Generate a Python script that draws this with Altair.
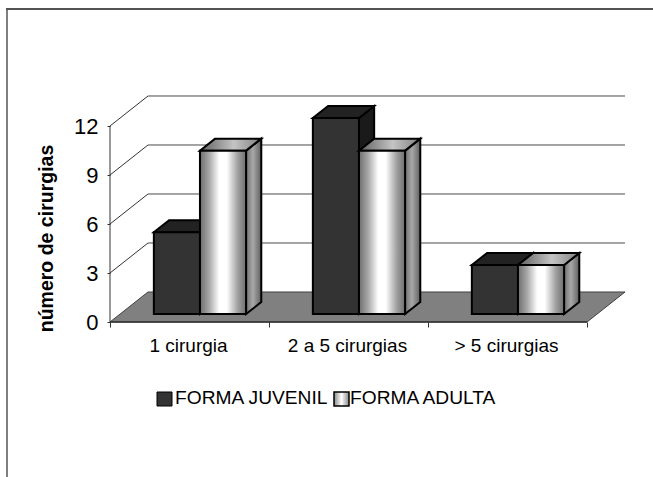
import altair as alt
import pandas as pd

# Survey counts per surgery band
categories = ["1 cirurgia", "2 a 5 cirurgias", "> 5 cirurgias"]
juvenil = [5, 12, 3]
adulta = [10, 10, 3]
value_ticks = [0, 3, 6, 9, 12]
series_names = ["FORMA JUVENIL", "FORMA ADULTA"]

# Oblique projection: one full step of depth shifts a point along both scales
DEPTH_X = 0.239
DEPTH_Y = 1.837
X_MAX = 3 * 515 / 477
Y_MAX = 226 / (196 / 12)
BAR_W = 0.29
BAR_LEFT = 0.212
FRONT = 0.267
BACK = 0.667

X = alt.Scale(domain=[0, X_MAX], nice=False, zero=False)
Y = alt.Scale(domain=[0, Y_MAX], nice=False, zero=False)
FONT = "Liberation Sans"

# Real axes along the front edge of the box; half positions carry the category
# names and the whole positions carry the tick marks
label_expr = (
    "datum.value % 1 == 0 ? '' : ["
    + ",".join(f"'{c}'" for c in categories)
    + "][floor(datum.value)]"
)
AX_X = alt.Axis(
    values=[0, 0.5, 1, 1.5, 2, 2.5, 3], labelExpr=label_expr, title=None, grid=False,
    domain=False, orient="bottom", tickColor="#333333", tickSize=5,
    tickOpacity={"condition": {"test": "datum.value % 1 == 0", "value": 1}, "value": 0},
    labelPadding=9, labelOffset=-1.5, labelFont=FONT, labelFontSize=19, labelColor="#000000",
    labelOverlap=False, labelFlush=False,
)
AX_Y = alt.Axis(
    values=value_ticks, title="número de cirurgias", grid=False, domain=False,
    orient="left", tickColor="#333333", tickSize=3, labelPadding=9, labelFont=FONT,
    labelFontSize=22, labelColor="#000000", titleFont=FONT, titleFontSize=19.5,
    titleFontWeight="bold", titleColor="#000000", titleX=-54, titleY=142,
)
PX = alt.X("x:Q", scale=X, axis=AX_X)
PY = alt.Y("y:Q", scale=Y, axis=AX_Y)


def gradient(stops):
    return alt.Gradient(
        gradient="linear", x1=0, x2=1, y1=0, y2=0,
        stops=[alt.GradientStop(offset=o, color=c) for o, c in stops],
    )


FRONT_FILL = gradient([(0, "#6e6e6e"), (0.2, "#a8a8a8"), (0.42, "#ffffff"),
                       (0.58, "#ffffff"), (0.82, "#a0a0a0"), (1, "#6e6e6e")])
TOP_FILL = gradient([(0, "#5e5e5e"), (0.55, "#c4c4c4"), (1, "#808080")])
SIDE_FILL = gradient([(0, "#707070"), (0.45, "#a8a8a8"), (1, "#606060")])


def bar_frames(values, slot):
    fronts, tops, sides = [], [], []
    for i, v in enumerate(values):
        x0 = i + BAR_LEFT + slot * BAR_W
        x1 = x0 + BAR_W
        fx, fy = FRONT * DEPTH_X, FRONT * DEPTH_Y
        bx, by = BACK * DEPTH_X, BACK * DEPTH_Y
        fronts.append(dict(bar=i, x=x0 + fx, x2=x1 + fx, y=fy, y2=v + fy))
        tops += [
            dict(bar=i, y=v + fy, x=x0 + fx, x2=x1 + fx),
            dict(bar=i, y=v + by, x=x0 + bx, x2=x1 + bx),
        ]
        sides += [
            dict(bar=i, x=x1 + fx, y=fy, y2=v + fy),
            dict(bar=i, x=x1 + bx, y=by, y2=v + by),
        ]
    return pd.DataFrame(fronts), pd.DataFrame(tops), pd.DataFrame(sides)


def bar_layers(values, slot, front_fill, top_fill, side_fill):
    fronts, tops, sides = bar_frames(values, slot)
    line = dict(stroke="#000000", strokeWidth=2)
    side = alt.Chart(sides).mark_area(orient="vertical", fill=side_fill, **line).encode(
        x=PX, y=PY, y2="y2:Q", detail="bar:N",
    )
    top = alt.Chart(tops).mark_area(orient="horizontal", fill=top_fill, **line).encode(
        y=PY, x=PX, x2="x2:Q", detail="bar:N",
    )
    front = alt.Chart(fronts).mark_rect(fill=front_fill, **line).encode(
        x=PX, x2="x2:Q", y=PY, y2="y2:Q",
    )
    return [side, top, front]


# Walls and floor of the box
grid_back = pd.DataFrame({"y": [v + DEPTH_Y for v in value_ticks[1:]]})
grid_back["x"] = DEPTH_X
grid_back["x2"] = 3 + DEPTH_X
back_lines = alt.Chart(grid_back).mark_rule(color="#4a4a4a", strokeWidth=1).encode(
    x=PX, x2="x2:Q", y=PY,
)

diagonals = pd.DataFrame(
    [dict(v=v, x=d * DEPTH_X, y=v + d * DEPTH_Y) for v in value_ticks[1:] for d in (0, 1)]
)
side_lines = alt.Chart(diagonals).mark_line(color="#333333", strokeWidth=1).encode(
    x=PX, y=PY, detail="v:N",
)

floor_df = pd.DataFrame([
    dict(y=0, x=0, x2=3),
    dict(y=DEPTH_Y, x=DEPTH_X, x2=3 + DEPTH_X),
])
floor = alt.Chart(floor_df).mark_area(
    orient="horizontal", fill="#808080", stroke="#404040", strokeWidth=1
).encode(y=PY, x=PX, x2="x2:Q")

front_left = alt.Chart(pd.DataFrame({"x": [0], "y": [0], "y2": [12]})).mark_rule(
    color="#333333"
).encode(x=PX, y=PY, y2="y2:Q")
front_base = alt.Chart(pd.DataFrame({"x": [0], "x2": [3], "y": [0]})).mark_rule(
    color="#333333", strokeWidth=1.5
).encode(x=PX, x2="x2:Q", y=PY)

# Hand-placed legend row below the category labels (offsets from the plot corner)
anchor = pd.DataFrame({"k": [0]})
SW_Y0, SW_Y1 = 296, 310
legend_text = (
    alt.Chart(pd.DataFrame({"name": series_names, "tx": [65, 240]}))
    .mark_text(font=FONT, fontSize=19.2, align="left", baseline="alphabetic", color="#000000")
    .encode(x=alt.X("tx:Q", scale=None, axis=None), y=alt.value(308), text="name:N")
)
swatch_dark = alt.Chart(anchor).mark_rect(fill="#333333", stroke="#000000", strokeWidth=1).encode(
    x=alt.value(47), x2=alt.value(62), y=alt.value(SW_Y0), y2=alt.value(SW_Y1))
swatch_light = alt.Chart(anchor).mark_rect(
    fill=gradient([(0, "#888888"), (0.5, "#ffffff"), (1, "#888888")]),
    stroke="#000000", strokeWidth=1.5,
).encode(x=alt.value(224), x2=alt.value(239), y=alt.value(SW_Y0), y2=alt.value(SW_Y1))

# Page border: top and left edges only
border_top = alt.Chart(anchor).mark_rule(color="#1a1a1a", strokeWidth=1.5, clip=False).encode(
    x=alt.value(-104), x2=alt.value(543), y=alt.value(-87))
border_left = alt.Chart(anchor).mark_rule(color="#555555", strokeWidth=1.5, clip=False).encode(
    x=alt.value(-103), y=alt.value(-87), y2=alt.value(381))

layers = [back_lines, side_lines, floor, front_left, front_base]
layers += bar_layers(juvenil, 0, "#333333", "#222222", "#1a1a1a")
layers += bar_layers(adulta, 1, FRONT_FILL, TOP_FILL, SIDE_FILL)
layers += [legend_text, swatch_dark, swatch_light, border_top, border_left]

chart = alt.layer(*layers).properties(
    width=515,
    height=226,
    padding={"left": 110, "top": 96, "right": 28, "bottom": 155},
    autosize=alt.AutoSizeParams(type="none"),
    background="#ffffff",
).configure_view(stroke=None)

chart.save("out.html", embed_options={"renderer": "svg", "actions": False})
